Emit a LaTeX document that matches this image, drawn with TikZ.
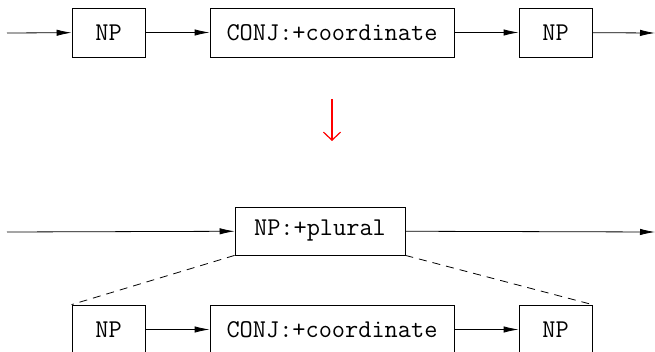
\documentclass[tikz,border=0pt]{standalone}
\usepackage{fontspec}
\usetikzlibrary{arrows.meta}

\begin{document}
\begin{tikzpicture}[x=0.5pt,y=-0.5pt,
  box/.style={draw,thin,minimum height=24.5pt,inner sep=0pt,font=\fontsize{12.8}{14}\selectfont\ttfamily},
  flow/.style={thin,-{Latex[length=7.5pt,width=3.2pt]}},
  link/.style={thin,dash pattern=on 4pt off 3pt}]
\useasboundingbox (0,0) rectangle (655,352);
% original sequence
\coordinate (in1) at (7,33);
\coordinate (out1) at (655,33);
\node[box,minimum width=36.5pt] (np1) at (108.5,32.5) {NP};
\node[box,minimum width=122pt] (conj1) at (332,32.5) {CONJ:+coordinate};
\node[box,minimum width=36.5pt] (np2) at (555.5,32.5) {NP};
\draw[flow] (in1) -- (np1);
\draw[flow] (np1) -- (conj1);
\draw[flow] (conj1) -- (np2);
\draw[flow] (np2) -- (out1);

% rewrite step
\coordinate (ra) at (332,99);
\coordinate (rb) at (332,141);
\draw[red,line width=0.6pt,-{Straight Barb[length=4pt,width=8.5pt]}] (ra) -- (rb);

% reduced sequence
\coordinate (in2) at (7,232);
\coordinate (out2) at (655,232);
\node[box,minimum width=85pt,minimum height=24pt] (plural) at (320,231) {NP:+plural};
\draw[flow] (in2) -- (plural);
\draw[flow] (plural) -- (out2);

\node[box,minimum width=36.5pt] (np3) at (108.5,329.5) {NP};
\node[box,minimum width=122pt] (conj2) at (332,329.5) {CONJ:+coordinate};
\node[box,minimum width=36.5pt] (np4) at (555.5,329.5) {NP};
\draw[flow] (np3) -- (conj2);
\draw[flow] (conj2) -- (np4);
\draw[link] (plural.south west) -- (np3.north west);
\draw[link] (plural.south east) -- (np4.north east);
\end{tikzpicture}
\end{document}
